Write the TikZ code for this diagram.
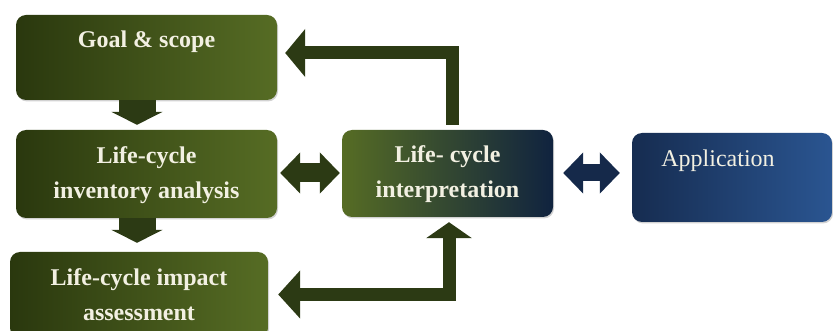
\documentclass[tikz,border=0pt]{standalone}
\usepackage{fontspec}
\setmainfont{Liberation Serif}
\usetikzlibrary{arrows.meta,shadows}
\definecolor{gdark}{HTML}{2A380E}
\definecolor{glight}{HTML}{566C24}
\definecolor{navyd}{HTML}{10233F}
\definecolor{navyl}{HTML}{2A5591}
\definecolor{appd}{HTML}{162C50}
\definecolor{arrg}{HTML}{2C3A14}
\definecolor{arrn}{HTML}{15294A}
\definecolor{txt}{HTML}{F2F0E2}
\tikzset{
  box/.style={rounded corners=10pt, inner sep=0pt, draw=none,
    drop shadow={shadow xshift=1pt, shadow yshift=-1.5pt, opacity=0.35}},
  greenbox/.style={box, left color=gdark, right color=glight},
  interpbox/.style={box, left color=glight, right color=navyd},
  appbox/.style={box, left color=appd, right color=navyl},
  lbl/.style={text=txt, font=\bfseries\fontsize{24}{35}\selectfont, align=center, inner sep=0pt},
  fat/.style={draw=arrg, line width=#1, line cap=butt, line join=miter},
  fatn/.style={draw=arrn, line width=#1, line cap=butt, line join=miter},
}
\begin{document}
\begin{tikzpicture}[x=1pt,y=-1pt]
\useasboundingbox[fill=white] (0,0) rectangle (833,331);
% boxes
\node[greenbox, minimum width=261pt, minimum height=85pt] (goal) at (146.5,57.5) {};
\node[greenbox, minimum width=261pt, minimum height=88pt] (lci) at (146.5,174) {};
\node[greenbox, minimum width=258pt, minimum height=86pt] (lcia) at (139,295) {};
\node[interpbox, minimum width=211pt, minimum height=87pt] (interp) at (447.5,173.5) {};
\node[appbox, minimum width=200pt, minimum height=89pt] (app) at (732,177.5) {};
% texts
\node[lbl] (goalt) at (146.5,42) {Goal \& scope};
\node[lbl] (lcit) at (146.5,175) {Life-cycle\\inventory analysis};
\node[lbl] (lciat) at (139,294.5) {Life-cycle impact\\assessment};
\node[lbl] (interpt) at (447.5,174.5) {Life- cycle\\interpretation};
\node[lbl, font=\fontsize{24}{35}\selectfont] (appt) at (718,161) {Application};
% vertical arrows
\draw[fat=37pt, -{Triangle[width=51pt,length=13pt]}, shorten >=5pt]
  (137,0 |- goal.south) -- (137,0 |- lci.north);
\draw[fat=37pt, -{Triangle[width=51pt,length=13pt]}, shorten >=9pt]
  (137,0 |- lci.south) -- (137,0 |- lcia.north);
% double arrows
\draw[fat=19pt, {Triangle[width=40pt,length=20pt]}-{Triangle[width=40pt,length=20pt]},
  shorten <=3pt, shorten >=2pt] ([yshift=1pt]lci.east) -- ([yshift=0.5pt]interp.west);
\draw[fatn=17pt, {Triangle[width=40pt,length=20pt]}-{Triangle[width=40pt,length=20pt]},
  shorten <=10pt, shorten >=12pt] ([yshift=0.5pt]interp.east) -- ([yshift=4.5pt]app.west);
% feedback arrows
\draw[fat=13pt, -{Triangle[width=47pt,length=20pt]}, shorten <=5pt, shorten >=8pt]
  ([xshift=4.5pt]interp.north) |- ([yshift=4.5pt]goal.east);
\draw[fat=13pt, {Triangle[width=47pt,length=22pt]}-{Triangle[width=45pt,length=16pt]},
  shorten <=10pt, shorten >=5pt]
  ([yshift=0.5pt]lcia.east) -| ([xshift=1.5pt]interp.south);
\end{tikzpicture}
\end{document}
